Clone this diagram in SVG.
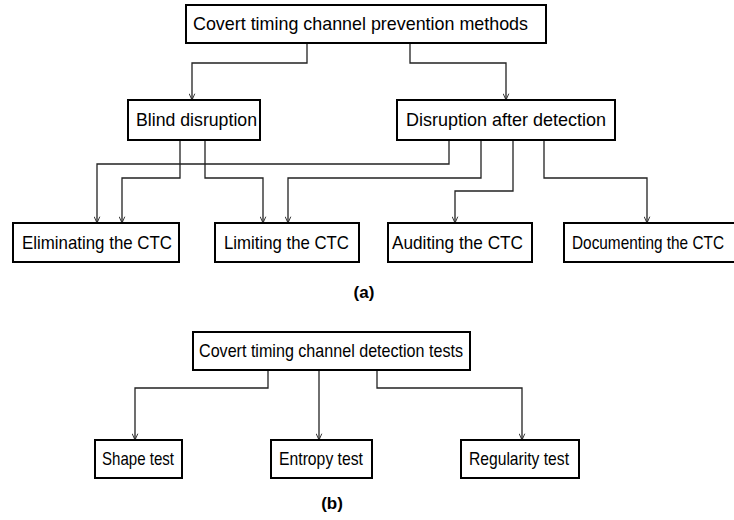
<svg xmlns="http://www.w3.org/2000/svg" width="734" height="520" viewBox="0 0 734 520">
<defs>
<style>
.box{fill:#fff;stroke:#000;stroke-width:2}
.t{font-family:"Liberation Sans",Arial,sans-serif;font-size:19px;fill:#000}
.lbl{font-family:"Liberation Sans",Arial,sans-serif;font-size:17px;font-weight:bold;fill:#000}
.c{fill:none;stroke:#222;stroke-width:1.3}
</style>
<marker id="arr" viewBox="0 0 10 10" refX="10" refY="5" markerWidth="7" markerHeight="7" markerUnits="userSpaceOnUse" orient="auto">
<path d="M1,1 L10,5 L1,9" fill="none" stroke="#222" stroke-width="1.3"/>
</marker>
</defs>
<rect width="734" height="520" fill="#fff"/>
<g id="connectors">
<path class="c" marker-end="url(#arr)" d="M307,43 V63 H192 V100"/>
<path class="c" marker-end="url(#arr)" d="M410,43 V63 H506 V100"/>
<path class="c" marker-end="url(#arr)" d="M180,140 V178 H122 V223"/>
<path class="c" marker-end="url(#arr)" d="M205,140 V178 H263 V223"/>
<path class="c" marker-end="url(#arr)" d="M449,140 V164 H97 V223"/>
<path class="c" marker-end="url(#arr)" d="M481,140 V178 H288 V223"/>
<path class="c" marker-end="url(#arr)" d="M513,140 V191 H455 V223"/>
<path class="c" marker-end="url(#arr)" d="M544,140 V178 H647 V223"/>
<path class="c" marker-end="url(#arr)" d="M268,370 V388 H135 V440"/>
<path class="c" marker-end="url(#arr)" d="M319,370 V440"/>
<path class="c" marker-end="url(#arr)" d="M377,370 V388 H522 V440"/>
</g>
<g id="n_prevention"><rect class="box" x="186" y="5" width="360" height="38"/><text class="t" x="193" y="30" textLength="335" lengthAdjust="spacingAndGlyphs">Covert timing channel prevention methods</text></g>
<g id="n_blind"><rect class="box" x="128" y="100" width="132" height="40"/><text class="t" x="136" y="126" textLength="121" lengthAdjust="spacingAndGlyphs">Blind disruption</text></g>
<g id="n_after"><rect class="box" x="397" y="100" width="218" height="40"/><text class="t" x="406" y="126" textLength="200" lengthAdjust="spacingAndGlyphs">Disruption after detection</text></g>
<g id="n_elim"><rect class="box" x="13" y="223" width="166" height="39"/><text class="t" x="22" y="249" textLength="150" lengthAdjust="spacingAndGlyphs">Eliminating the CTC</text></g>
<g id="n_limit"><rect class="box" x="215" y="223" width="144" height="39"/><text class="t" x="224" y="249" textLength="125" lengthAdjust="spacingAndGlyphs">Limiting the CTC</text></g>
<g id="n_audit"><rect class="box" x="388" y="223" width="144" height="39"/><text class="t" x="392" y="249" textLength="131" lengthAdjust="spacingAndGlyphs">Auditing the CTC</text></g>
<g id="n_doc"><rect class="box" x="564" y="223" width="180" height="39"/><text class="t" x="572" y="249" textLength="152" lengthAdjust="spacingAndGlyphs">Documenting the CTC</text></g>
<text class="lbl" x="364" y="298" text-anchor="middle">(a)</text>
<g id="n_detection"><rect class="box" x="193" y="332" width="277" height="38"/><text class="t" x="199" y="357" textLength="264" lengthAdjust="spacingAndGlyphs">Covert timing channel detection tests</text></g>
<g id="n_shape"><rect class="box" x="95" y="440" width="87" height="38"/><text class="t" x="102" y="465" textLength="72" lengthAdjust="spacingAndGlyphs">Shape test</text></g>
<g id="n_entropy"><rect class="box" x="271" y="440" width="101" height="38"/><text class="t" x="279" y="465" textLength="84" lengthAdjust="spacingAndGlyphs">Entropy test</text></g>
<g id="n_regularity"><rect class="box" x="461" y="440" width="118" height="38"/><text class="t" x="469" y="465" textLength="100" lengthAdjust="spacingAndGlyphs">Regularity test</text></g>
<text class="lbl" x="332" y="509" text-anchor="middle">(b)</text>
</svg>
